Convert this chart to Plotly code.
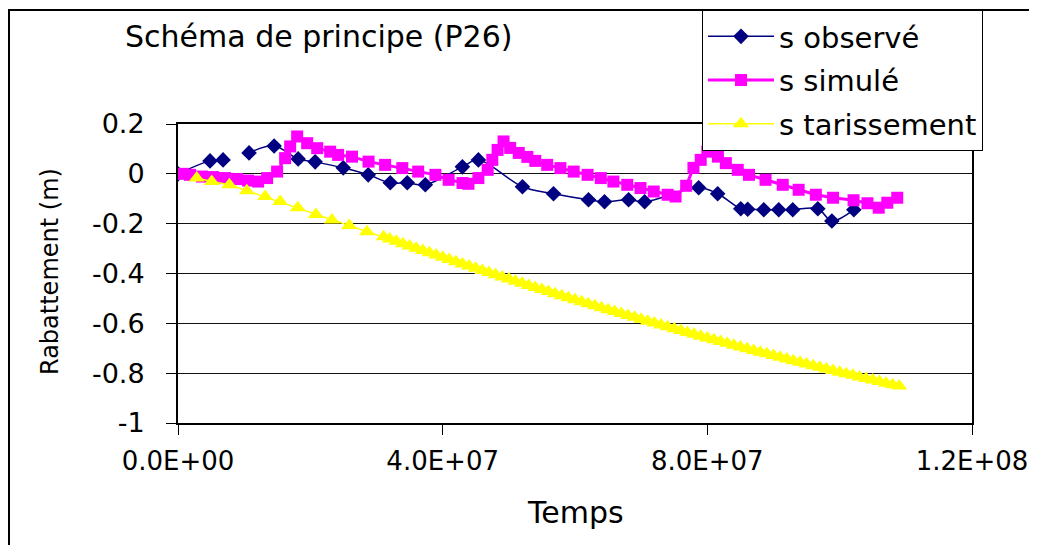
import plotly.graph_objects as go

# Temps en millions de secondes, rabattement en metres
t_obs = [0, 4.84, 6.81, 8.8, 10.74, 14.53, 18.16, 20.73, 24.97, 28.75,
         32.08, 34.65, 37.38, 42.98, 45.40, 52.06, 56.75, 62.04, 64.46, 68.10,
         70.52, 78.69, 81.56, 85.05, 86.10, 88.53, 90.79, 92.91, 96.70, 98.82,
         102.14]
s_obs = [0.0, 0.052, 0.056, None, 0.084, 0.112, 0.060, 0.048, 0.024, -0.004,
         -0.036, -0.036, -0.044, 0.028, 0.056, -0.052, -0.080, -0.104, -0.112, -0.104,
         -0.112, -0.056, -0.080, -0.140, -0.142, -0.144, -0.144, -0.144, -0.140, -0.189,
         -0.144]

t_sim = [0.76, 1.82, 3.63, 5.30, 7.11, 8.93, 10.59, 12.11, 13.47, 14.98,
         16.19, 16.95, 18.01, 19.52, 21.04, 23.0, 24.2, 26.3, 28.8, 31.3,
         33.9, 36.3, 38.9, 40.9, 43.0, 43.9, 45.4, 46.8, 47.5, 48.3,
         49.2, 50.2, 51.5, 52.8, 54.0, 55.8, 57.8, 59.8, 61.9, 63.9,
         65.8, 67.9, 69.9, 71.9, 74.0, 75.2, 76.8, 77.9, 79.0, 80.0,
         81.6, 82.8, 84.6, 86.3, 88.8, 91.4, 93.8, 96.4, 99.0, 102.1,
         104.2, 105.9, 107.2, 108.7]
s_sim = [0.000, -0.004, -0.011, -0.013, -0.017, -0.021, -0.027, -0.031, -0.017, 0.009,
         0.063, 0.110, 0.150, 0.123, 0.103, 0.089, 0.076, 0.069, 0.049, 0.036,
         0.023, 0.009, -0.004, -0.024, -0.037, -0.040, -0.017, 0.016, 0.056, 0.096,
         0.130, 0.104, 0.084, 0.068, 0.052, 0.036, 0.023, 0.009, -0.004, -0.017,
         -0.031, -0.044, -0.057, -0.071, -0.084, -0.091, -0.048, 0.024, 0.056, 0.089,
         0.069, 0.043, 0.016, -0.004, -0.024, -0.044, -0.064, -0.084, -0.096, -0.106,
         -0.118, -0.136, -0.116, -0.096]

t_tar = [2.83, 5.10, 7.76, 10.40, 13.17, 15.44, 18.11, 20.84, 23.26, 25.88,
         28.56, 31.07, 32, 33, 34, 35, 36, 37, 38, 39,
         40, 41, 42, 43, 44, 45, 46, 47, 48, 49,
         50, 51, 52, 53, 54, 55, 56, 57, 58, 59,
         60, 61, 62, 63, 64, 65, 66, 67, 68, 69,
         70, 71, 72, 73, 74, 75, 76, 77, 78, 79,
         80, 81, 82, 83, 84, 85, 86, 87, 88, 89,
         90, 91, 92, 93, 94, 95, 96, 97, 98, 99,
         100, 101, 102, 103, 104, 105, 106, 107, 108, 109]
s_tar = [-0.017, -0.031, -0.044, -0.068, -0.091, -0.111, -0.136, -0.163, -0.185, -0.207,
         -0.232, -0.253, -0.262, -0.271, -0.281, -0.290, -0.299, -0.308, -0.317, -0.326,
         -0.335, -0.344, -0.353, -0.362, -0.370, -0.379, -0.388, -0.396, -0.405, -0.414,
         -0.422, -0.431, -0.439, -0.448, -0.456, -0.464, -0.472, -0.481, -0.489, -0.497,
         -0.505, -0.513, -0.521, -0.529, -0.537, -0.545, -0.553, -0.561, -0.569, -0.576,
         -0.584, -0.592, -0.599, -0.607, -0.614, -0.622, -0.629, -0.637, -0.644, -0.652,
         -0.659, -0.666, -0.673, -0.680, -0.688, -0.695, -0.702, -0.709, -0.716, -0.722,
         -0.729, -0.736, -0.743, -0.750, -0.756, -0.763, -0.770, -0.776, -0.783, -0.789,
         -0.796, -0.802, -0.808, -0.815, -0.821, -0.827, -0.833, -0.840, -0.846, -0.852]

x_ticks = [0, 4e7, 8e7, 1.2e8]
x_labels = ["0.0E+00", "4.0E+07", "8.0E+07", "1.2E+08"]
y_ticks = [0.2, 0, -0.2, -0.4, -0.6, -0.8, -1]
y_labels = ["0.2", "0", "-0.2", "-0.4", "-0.6", "-0.8", "-1"]

# page geometry: the page body adds an 8px margin, so the figure is
# 8px smaller and every screen position below is shifted by it
OFF = 8
W, H = 1037 - OFF, 545 - OFF
L, R, T, B = 178 - OFF, 65, 124 - OFF, 122
pw, ph = W - L - R, H - T - B


def px(x):
    return (x - OFF - L) / pw


def py(y):
    return (H - B - (y - OFF)) / ph


FONT = "DejaVu Sans"

fig = go.Figure()
fig.add_trace(go.Scatter(
    x=[v * 1e6 for v in t_obs], y=s_obs, name="s observé",
    mode="lines+markers", line=dict(color="#000080", width=1.5, shape="spline"),
    marker=dict(symbol="diamond", size=12, color="#000080"),
    legendgroup="a"))
fig.add_trace(go.Scatter(
    x=[v * 1e6 for v in t_sim], y=s_sim, name="s simulé",
    mode="lines+markers", line=dict(color="#FF00FF", width=3),
    marker=dict(symbol="square", size=12, color="#FF00FF"),
    legendgroup="b"))
fig.add_trace(go.Scatter(
    x=[v * 1e6 for v in t_tar], y=s_tar, name="s tarissement",
    mode="lines+markers", line=dict(color="#FFFF00", width=1.5),
    marker=dict(symbol="triangle-up", size=14, color="#FFFF00"),
    legendgroup="c"))

fig.update_layout(
    width=W, height=H,
    margin=dict(l=L, r=R, t=T, b=B, autoexpand=False),
    paper_bgcolor="white", plot_bgcolor="white",
    font=dict(family=FONT, color="black", size=26),
    showlegend=True,
    legend=dict(x=px(702), y=py(10), xanchor="left", yanchor="top",
                bgcolor="white", bordercolor="black", borderwidth=1,
                font=dict(family=FONT, size=29), itemwidth=66,
                tracegroupgap=3),
    xaxis=dict(range=[0, 1.2e8], tickvals=x_ticks, ticktext=x_labels,
               ticks="outside", ticklen=10, tickcolor="black",
               showline=True, linecolor="black", linewidth=2, mirror=True,
               showgrid=False, zeroline=False,
               tickfont=dict(family=FONT, size=26), ticklabelstandoff=4),
    yaxis=dict(range=[-1, 0.2], tickvals=y_ticks, ticktext=y_labels,
               ticks="outside", ticklen=10, tickcolor="black",
               showline=True, linecolor="black", linewidth=2, mirror=True,
               showgrid=True, gridcolor="#111111", gridwidth=1,
               zeroline=True, zerolinecolor="#111111", zerolinewidth=1,
               tickfont=dict(family=FONT, size=27), ticklabelstandoff=16),
    annotations=[
        dict(text="Schéma de principe (P26)", xref="paper", yref="paper",
             x=px(123), y=py(37), xanchor="left", yanchor="middle",
             showarrow=False, font=dict(family=FONT, size=30)),
        dict(text="Temps", xref="paper", yref="paper",
             x=px(575), y=py(512), xanchor="center", yanchor="middle",
             showarrow=False, font=dict(family=FONT, size=30)),
        dict(text="Rabattement (m)", xref="paper", yref="paper",
             x=px(50), y=py(272), xanchor="center", yanchor="middle",
             textangle=-90, showarrow=False, font=dict(family=FONT, size=24)),
    ],
    shapes=[
        dict(type="line", xref="paper", yref="paper",
             x0=px(9), x1=px(9), y0=py(10), y1=py(545), line=dict(color="black", width=2)),
        dict(type="line", xref="paper", yref="paper",
             x0=px(8), x1=px(1037), y0=py(10), y1=py(10), line=dict(color="black", width=2)),
    ],
)

fig.write_html("out.html")
